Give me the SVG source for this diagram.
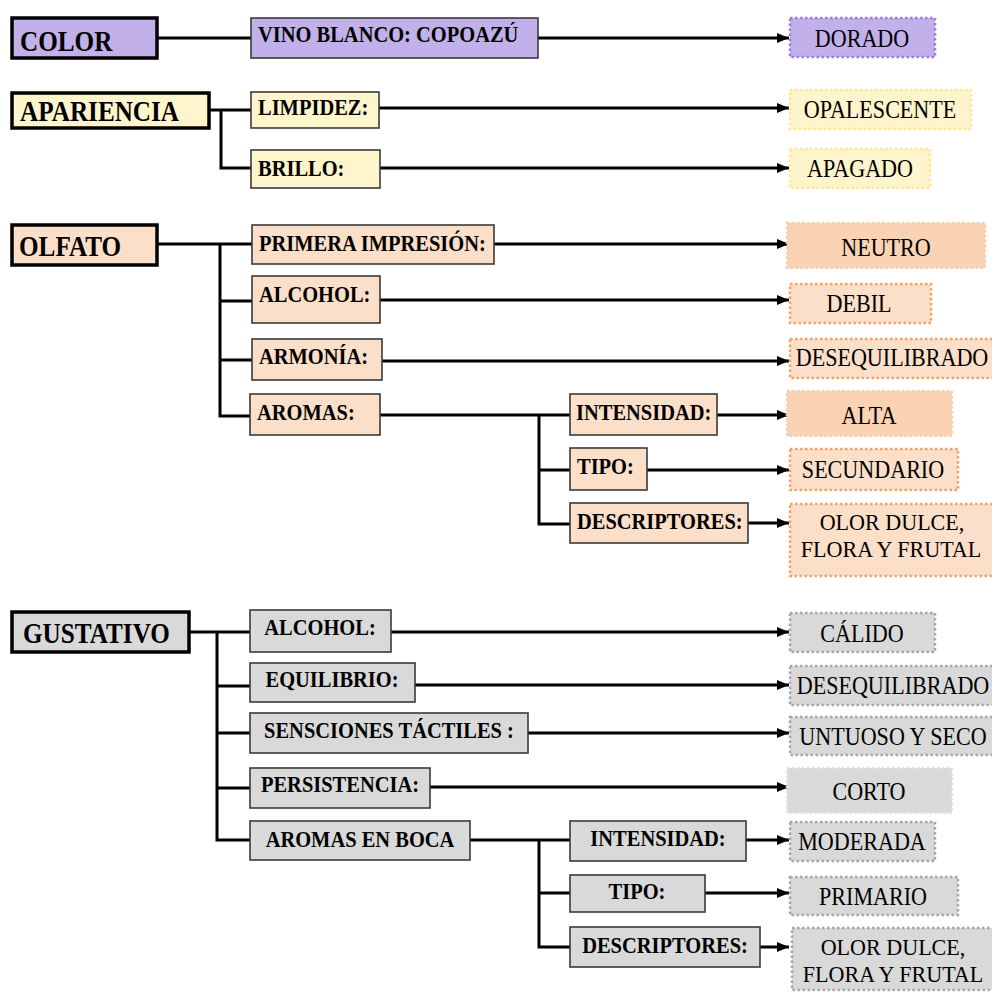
<svg xmlns="http://www.w3.org/2000/svg" width="992" height="992" viewBox="0 0 992 992">
<defs>
<marker id="ah" markerUnits="userSpaceOnUse" markerWidth="14" markerHeight="12" refX="12" refY="6" orient="auto">
<path d="M0,1 L12,6 L0,11 z" fill="#000"/>
</marker>
<style>
text{font-family:"Liberation Serif","Times New Roman",serif;fill:#000}
.hd{font-size:30px;font-weight:bold}
.lb{font-size:23px;font-weight:bold}
.vl{font-size:26px}
.v2{font-size:23px}
.mid{text-anchor:middle}
.hbox{stroke:#000;stroke-width:3.5}
.lbox{stroke:#3a3a3a;stroke-width:1.6}
.vbox{stroke-width:2.5;stroke-dasharray:2.5 2.5}
.purple{fill:#C1B0E9}
.yellow{fill:#FFF5CC}
.peach{fill:#FCDFC9}
.peach2{fill:#FAD3B5}
.grey{fill:#D9D9D9}
.cn{fill:none;stroke:#000;stroke-width:3}
.ar{fill:none;stroke:#000;stroke-width:3;marker-end:url(#ah)}
</style>
</defs>
<rect width="992" height="992" fill="#fff"/>

<g id="connectors">
<path class="cn" d="M157,38 H251"/>
<path class="ar" d="M538,38 H789"/>
<path class="cn" d="M209,110 H251 M221,110 V168 H251"/>
<path class="ar" d="M379,108 H789"/>
<path class="ar" d="M380,168 H789"/>
<path class="cn" d="M157,244 H252 M220,244 V416 H250 M220,301 H252 M220,360 H252"/>
<path class="ar" d="M494,244 H789"/>
<path class="ar" d="M380,300 H789"/>
<path class="ar" d="M382,361 H789"/>
<path class="cn" d="M380,415 H570 M539,415 V524 H570 M539,470 H570"/>
<path class="ar" d="M717,415 H789"/>
<path class="ar" d="M647,470 H789"/>
<path class="ar" d="M748,523 H789"/>
<path class="cn" d="M189,632 H250 M217,632 V840 H250 M217,686 H250 M217,733 H250 M217,788 H250"/>
<path class="ar" d="M391,632 H789"/>
<path class="ar" d="M415,685 H789"/>
<path class="ar" d="M528,733 H789"/>
<path class="ar" d="M430,787 H789"/>
<path class="cn" d="M470,840 H570 M539,840 V947 H570 M539,893 H570"/>
<path class="ar" d="M746,840 H789"/>
<path class="ar" d="M705,893 H789"/>
<path class="ar" d="M760,947 H789"/>
</g>

<!-- COLOR -->
<g id="color">
<rect class="hbox purple" x="12" y="18" width="145" height="40"/>
<text class="hd" transform="translate(20,51) scale(0.84,1)">COLOR</text>
</g>
<g id="vino">
<rect class="lbox purple" x="251" y="18" width="287" height="40"/>
<text class="lb" transform="translate(258,42) scale(0.89,1)">VINO BLANCO: COPOAZÚ</text>
</g>
<g id="dorado">
<rect class="vbox purple" stroke="#9B7CE0" x="790" y="18" width="145" height="39"/>
<text class="vl mid" transform="translate(862,47) scale(0.85,1)">DORADO</text>
</g>

<!-- APARIENCIA -->
<g id="apariencia">
<rect class="hbox yellow" x="12" y="93" width="197" height="35"/>
<text class="hd" transform="translate(20,121) scale(0.84,1)">APARIENCIA</text>
</g>
<g id="limpidez">
<rect class="lbox yellow" x="251" y="92" width="128" height="36"/>
<text class="lb" transform="translate(258,115) scale(0.89,1)">LIMPIDEZ:</text>
</g>
<g id="opalescente">
<rect class="vbox yellow" stroke="#FFE68F" x="790" y="90" width="181" height="39"/>
<text class="vl mid" transform="translate(880,118) scale(0.85,1)">OPALESCENTE</text>
</g>
<g id="brillo">
<rect class="lbox yellow" x="251" y="150" width="129" height="38"/>
<text class="lb" transform="translate(258,176) scale(0.89,1)">BRILLO:</text>
</g>
<g id="apagado">
<rect class="vbox yellow" stroke="#FFE68F" x="790" y="149" width="140" height="39"/>
<text class="vl mid" transform="translate(860,177) scale(0.85,1)">APAGADO</text>
</g>

<!-- OLFATO -->
<g id="olfato">
<rect class="hbox peach" x="12" y="225" width="145" height="40"/>
<text class="hd" transform="translate(19,256) scale(0.84,1)">OLFATO</text>
</g>
<g id="primera">
<rect class="lbox peach" x="252" y="225" width="242" height="39"/>
<text class="lb" transform="translate(259,251) scale(0.89,1)">PRIMERA IMPRESIÓN:</text>
</g>
<g id="neutro">
<rect class="vbox peach2" stroke="#F9CDAA" x="787" y="223" width="198" height="45"/>
<text class="vl mid" transform="translate(886,256) scale(0.85,1)">NEUTRO</text>
</g>
<g id="alcohol-o">
<rect class="lbox peach" x="252" y="276" width="128" height="47"/>
<text class="lb" transform="translate(259,302) scale(0.89,1)">ALCOHOL:</text>
</g>
<g id="debil">
<rect class="vbox peach" stroke="#F6A064" x="790" y="284" width="141" height="39"/>
<text class="vl mid" transform="translate(859,312) scale(0.85,1)">DEBIL</text>
</g>
<g id="armonia">
<rect class="lbox peach" x="252" y="339" width="130" height="41"/>
<text class="lb" transform="translate(259,364) scale(0.89,1)">ARMONÍA:</text>
</g>
<g id="deseq-o">
<rect class="vbox peach" stroke="#F6A064" x="790" y="339" width="205" height="39"/>
<text class="vl mid" transform="translate(892,366) scale(0.85,1)">DESEQUILIBRADO</text>
</g>
<g id="aromas">
<rect class="lbox peach" x="250" y="394" width="130" height="41"/>
<text class="lb" transform="translate(257,420) scale(0.89,1)">AROMAS:</text>
</g>
<g id="intensidad-o">
<rect class="lbox peach" x="570" y="394" width="147" height="41"/>
<text class="lb" transform="translate(576,420) scale(0.89,1)">INTENSIDAD:</text>
</g>
<g id="alta">
<rect class="vbox peach2" stroke="#F9CDAA" x="787" y="391" width="165" height="45"/>
<text class="vl mid" transform="translate(869,424) scale(0.85,1)">ALTA</text>
</g>
<g id="tipo-o">
<rect class="lbox peach" x="570" y="448" width="77" height="42"/>
<text class="lb" transform="translate(577,474) scale(0.89,1)">TIPO:</text>
</g>
<g id="secundario">
<rect class="vbox peach" stroke="#F6A064" x="790" y="449" width="168" height="41"/>
<text class="vl mid" transform="translate(873,478) scale(0.85,1)">SECUNDARIO</text>
</g>
<g id="descriptores-o">
<rect class="lbox peach" x="570" y="503" width="178" height="40"/>
<text class="lb" transform="translate(577,529) scale(0.89,1)">DESCRIPTORES:</text>
</g>
<g id="olor-o">
<rect class="vbox peach" stroke="#F6A064" x="790" y="504" width="205" height="72"/>
<text class="v2 mid" transform="translate(892,530) scale(0.96,1)">OLOR DULCE,</text>
<text class="v2 mid" transform="translate(891,557) scale(0.96,1)">FLORA Y FRUTAL</text>
</g>

<!-- GUSTATIVO -->
<g id="gustativo">
<rect class="hbox grey" x="12" y="612" width="177" height="40"/>
<text class="hd" transform="translate(23,643) scale(0.84,1)">GUSTATIVO</text>
</g>
<g id="alcohol-g">
<rect class="lbox grey" x="250" y="610" width="141" height="42"/>
<text class="lb mid" transform="translate(320,635) scale(0.89,1)">ALCOHOL:</text>
</g>
<g id="calido">
<rect class="vbox grey" stroke="#A6A6A6" x="790" y="613" width="145" height="39"/>
<text class="vl mid" transform="translate(862,642) scale(0.85,1)">CÁLIDO</text>
</g>
<g id="equilibrio">
<rect class="lbox grey" x="250" y="663" width="165" height="39"/>
<text class="lb mid" transform="translate(332,687) scale(0.89,1)">EQUILIBRIO:</text>
</g>
<g id="deseq-g">
<rect class="vbox grey" stroke="#A6A6A6" x="790" y="666" width="205" height="39"/>
<text class="vl mid" transform="translate(893,694) scale(0.85,1)">DESEQUILIBRADO</text>
</g>
<g id="sensaciones">
<rect class="lbox grey" x="250" y="713" width="278" height="40"/>
<text class="lb mid" transform="translate(389,738) scale(0.89,1)">SENSCIONES TÁCTILES :</text>
</g>
<g id="untuoso">
<rect class="vbox grey" stroke="#A6A6A6" x="790" y="717" width="205" height="38"/>
<text class="vl mid" transform="translate(893,745) scale(0.85,1)">UNTUOSO Y SECO</text>
</g>
<g id="persistencia">
<rect class="lbox grey" x="250" y="768" width="180" height="40"/>
<text class="lb mid" transform="translate(340,792) scale(0.89,1)">PERSISTENCIA:</text>
</g>
<g id="corto">
<rect class="vbox grey" stroke="#E2E2E2" x="787" y="768" width="165" height="45"/>
<text class="vl mid" transform="translate(869,800) scale(0.85,1)">CORTO</text>
</g>
<g id="aromas-boca">
<rect class="lbox grey" x="250" y="821" width="220" height="39"/>
<text class="lb mid" transform="translate(360,847) scale(0.89,1)">AROMAS EN BOCA</text>
</g>
<g id="intensidad-g">
<rect class="lbox grey" x="570" y="821" width="176" height="40"/>
<text class="lb mid" transform="translate(658,846) scale(0.89,1)">INTENSIDAD:</text>
</g>
<g id="moderada">
<rect class="vbox grey" stroke="#A6A6A6" x="790" y="822" width="145" height="39"/>
<text class="vl mid" transform="translate(862,850) scale(0.85,1)">MODERADA</text>
</g>
<g id="tipo-g">
<rect class="lbox grey" x="570" y="875" width="135" height="37"/>
<text class="lb mid" transform="translate(637,899) scale(0.89,1)">TIPO:</text>
</g>
<g id="primario">
<rect class="vbox grey" stroke="#A6A6A6" x="790" y="877" width="168" height="38"/>
<text class="vl mid" transform="translate(873,905) scale(0.85,1)">PRIMARIO</text>
</g>
<g id="descriptores-g">
<rect class="lbox grey" x="570" y="927" width="190" height="40"/>
<text class="lb mid" transform="translate(665,953) scale(0.89,1)">DESCRIPTORES:</text>
</g>
<g id="olor-g">
<rect class="vbox grey" stroke="#A6A6A6" x="792" y="928" width="203" height="62"/>
<text class="v2 mid" transform="translate(893,955) scale(0.96,1)">OLOR DULCE,</text>
<text class="v2 mid" transform="translate(893,982) scale(0.96,1)">FLORA Y FRUTAL</text>
</g>
</svg>
